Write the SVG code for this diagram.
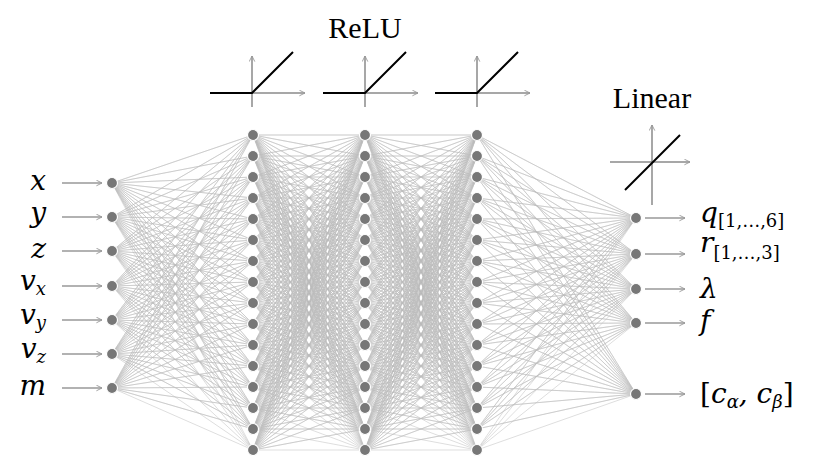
<svg xmlns="http://www.w3.org/2000/svg" xmlns:xlink="http://www.w3.org/1999/xlink" width="820" height="456" viewBox="0 0 820 456">
<style>
.e{fill:none;stroke:#bdbdbd;stroke-width:0.5;vector-effect:non-scaling-stroke}
.n{fill:#777;stroke:#fff;stroke-width:1.2}
.ar{stroke:#999;stroke-width:1.6;fill:none;marker-end:url(#ah)}
.ax{stroke:#8a8a8a;stroke-width:1.5;fill:none;marker-end:url(#ah)}
.fn{stroke:#000;stroke-width:2;fill:none}
.m{font-family:"DejaVu Serif","Liberation Serif",serif;font-style:italic;font-size:28px;fill:#000}
.s{font-size:18px}
.u{font-style:normal}
.t{font-family:"Liberation Serif","DejaVu Serif",serif;font-size:30px;fill:#000;text-anchor:middle}
</style>
<defs>
<marker id="ah" viewBox="0 0 10 10" refX="9" refY="5" markerWidth="7" markerHeight="7" markerUnits="userSpaceOnUse" orient="auto"><path d="M1 1L9 5L1 9" fill="none" stroke="#999" stroke-width="1.3"/></marker>
<path id="fan" class="e" d="M0 0 1 0 0 0 1 1 0 0 1 2 0 0 1 3 0 0 1 4 0 0 1 5 0 0 1 6 0 0 1 7 0 0 1 8 0 0 1 9 0 0 1 10 0 0 1 11 0 0 1 12 0 0 1 13 0 0 1 14 0 0 1 15"/>
<g id="hh">
<use xlink:href="#fan"/>
<use xlink:href="#fan" transform="matrix(1,-1,0,1,0,1)"/>
<use xlink:href="#fan" transform="matrix(1,-2,0,1,0,2)"/>
<use xlink:href="#fan" transform="matrix(1,-3,0,1,0,3)"/>
<use xlink:href="#fan" transform="matrix(1,-4,0,1,0,4)"/>
<use xlink:href="#fan" transform="matrix(1,-5,0,1,0,5)"/>
<use xlink:href="#fan" transform="matrix(1,-6,0,1,0,6)"/>
<use xlink:href="#fan" transform="matrix(1,-7,0,1,0,7)"/>
<use xlink:href="#fan" transform="matrix(1,-8,0,1,0,8)"/>
<use xlink:href="#fan" transform="matrix(1,-9,0,1,0,9)"/>
<use xlink:href="#fan" transform="matrix(1,-10,0,1,0,10)"/>
<use xlink:href="#fan" transform="matrix(1,-11,0,1,0,11)"/>
<use xlink:href="#fan" transform="matrix(1,-12,0,1,0,12)"/>
<use xlink:href="#fan" transform="matrix(1,-13,0,1,0,13)"/>
<use xlink:href="#fan" transform="matrix(1,-14,0,1,0,14)"/>
<use xlink:href="#fan" transform="matrix(1,-15,0,1,0,15)"/>
</g>
<g id="col">
<circle class="n" cx="0" cy="135" r="5.5"/><circle class="n" cx="0" cy="156" r="5.5"/><circle class="n" cx="0" cy="177" r="5.5"/><circle class="n" cx="0" cy="198" r="5.5"/>
<circle class="n" cx="0" cy="219" r="5.5"/><circle class="n" cx="0" cy="240" r="5.5"/><circle class="n" cx="0" cy="261" r="5.5"/><circle class="n" cx="0" cy="282" r="5.5"/>
<circle class="n" cx="0" cy="303" r="5.5"/><circle class="n" cx="0" cy="324" r="5.5"/><circle class="n" cx="0" cy="345" r="5.5"/><circle class="n" cx="0" cy="366" r="5.5"/>
<circle class="n" cx="0" cy="387" r="5.5"/><circle class="n" cx="0" cy="408" r="5.5"/><circle class="n" cx="0" cy="429" r="5.5"/><circle class="n" cx="0" cy="450" r="5.5"/>
</g>
<g id="relu"><path class="ax" d="M0 14V-37"/><path class="ax" d="M0 0H53"/><path class="fn" d="M-42 0H0L41 -41"/></g>
<path id="arr" class="ar" d="M0 0H40"/>
</defs>
<g id="connectors">
<g transform="translate(112,135) scale(141,21)">
<use xlink:href="#fan" transform="matrix(1,-2.286,0,1,0,2.286)"/>
<use xlink:href="#fan" transform="matrix(1,-3.905,0,1,0,3.905)"/>
<use xlink:href="#fan" transform="matrix(1,-5.524,0,1,0,5.524)"/>
<use xlink:href="#fan" transform="matrix(1,-7.190,0,1,0,7.190)"/>
<use xlink:href="#fan" transform="matrix(1,-8.810,0,1,0,8.810)"/>
<use xlink:href="#fan" transform="matrix(1,-10.429,0,1,0,10.429)"/>
<use xlink:href="#fan" transform="matrix(1,-12.048,0,1,0,12.048)"/>
</g>
<g transform="translate(253,135) scale(112,21)"><use xlink:href="#hh"/></g>
<g transform="translate(365,135) scale(112,21)"><use xlink:href="#hh"/></g>
<g transform="translate(477,135) scale(159,21)">
<use xlink:href="#fan" transform="matrix(-1,-3.952,0,1,1,3.952)"/>
<use xlink:href="#fan" transform="matrix(-1,-5.667,0,1,1,5.667)"/>
<use xlink:href="#fan" transform="matrix(-1,-7.333,0,1,1,7.333)"/>
<use xlink:href="#fan" transform="matrix(-1,-8.952,0,1,1,8.952)"/>
<use xlink:href="#fan" transform="matrix(-1,-12.333,0,1,1,12.333)"/>
</g>
<use xlink:href="#arr" x="62" y="183"/><use xlink:href="#arr" x="62" y="217"/><use xlink:href="#arr" x="62" y="251"/><use xlink:href="#arr" x="62" y="286"/><use xlink:href="#arr" x="62" y="320"/><use xlink:href="#arr" x="62" y="354"/><use xlink:href="#arr" x="62" y="388"/>
<use xlink:href="#arr" x="645" y="218"/><use xlink:href="#arr" x="645" y="254"/><use xlink:href="#arr" x="645" y="289"/><use xlink:href="#arr" x="645" y="323"/><use xlink:href="#arr" x="645" y="394"/>
</g>
<g id="input-layer">
<circle class="n" cx="112" cy="183" r="5.5"/><circle class="n" cx="112" cy="217" r="5.5"/><circle class="n" cx="112" cy="251" r="5.5"/><circle class="n" cx="112" cy="286" r="5.5"/><circle class="n" cx="112" cy="320" r="5.5"/><circle class="n" cx="112" cy="354" r="5.5"/><circle class="n" cx="112" cy="388" r="5.5"/>
</g>
<g id="hidden-1"><use xlink:href="#col" x="253"/></g>
<g id="hidden-2"><use xlink:href="#col" x="365"/></g>
<g id="hidden-3"><use xlink:href="#col" x="477"/></g>
<g id="output-layer">
<circle class="n" cx="636" cy="218" r="5.5"/><circle class="n" cx="636" cy="254" r="5.5"/><circle class="n" cx="636" cy="289" r="5.5"/><circle class="n" cx="636" cy="323" r="5.5"/><circle class="n" cx="636" cy="394" r="5.5"/>
</g>
<g id="input-labels" text-anchor="end">
<text class="m" x="46" y="190">x</text>
<text class="m" x="46" y="222">y</text>
<text class="m" x="46" y="258">z</text>
<text class="m" x="46" y="290">v<tspan class="s" dy="5">x</tspan></text>
<text class="m" x="46" y="324">v<tspan class="s" dy="5">y</tspan></text>
<text class="m" x="46" y="358">v<tspan class="s" dy="5">z</tspan></text>
<text class="m" x="46" y="395">m</text>
</g>
<g id="output-labels">
<text class="m" x="700" y="222">q<tspan class="s u" dy="5">[1,…,6]</tspan></text>
<text class="m" x="700" y="252">r<tspan class="s u" dy="7">[1,…,3]</tspan></text>
<text class="m" x="700" y="298">λ</text>
<text class="m" x="700" y="330">f</text>
<text class="m" x="700" y="403"><tspan class="u">[</tspan>c<tspan class="s" dy="5">α</tspan><tspan dy="-5">, c</tspan><tspan class="s" dy="5">β</tspan><tspan class="u" dy="-5">]</tspan></text>
</g>
<g id="activations">
<text class="t" x="365" y="38">ReLU</text>
<use xlink:href="#relu" transform="translate(252,93)"/>
<use xlink:href="#relu" transform="translate(365,93)"/>
<use xlink:href="#relu" transform="translate(477,93)"/>
<text class="t" x="652" y="108" font-size="28">Linear</text>
<path class="ax" d="M610 162H690"/><path class="ax" d="M652 205V125"/><path class="fn" d="M625 190L680 135"/>
</g>
</svg>
